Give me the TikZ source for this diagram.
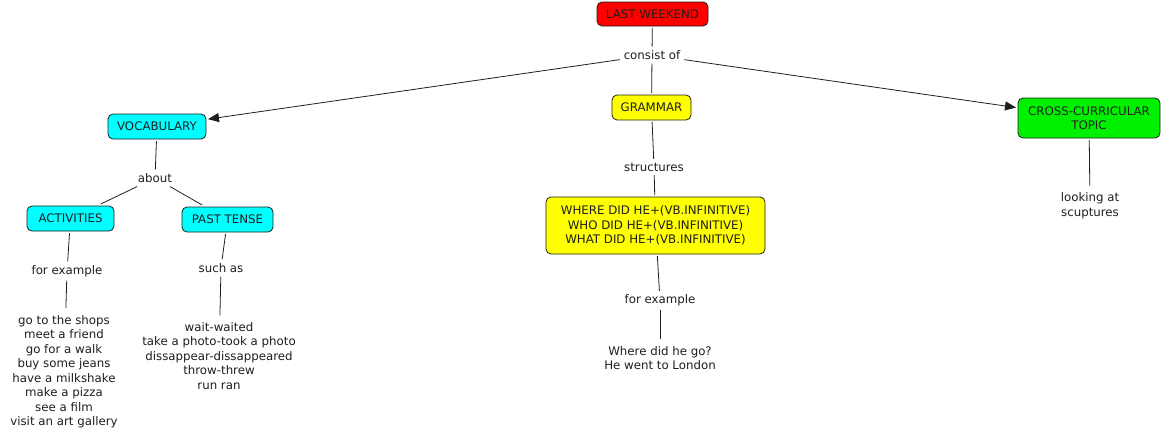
\documentclass[tikz,border=0pt]{standalone}
\usepackage{fontspec}
\setmainfont{DejaVu Sans}
\usetikzlibrary{arrows.meta}
\definecolor{inkc}{HTML}{1E1E1E}
\definecolor{cmred}{HTML}{FF0000}
\definecolor{cmcyan}{HTML}{00FFFF}
\definecolor{cmyellow}{HTML}{FFFF00}
\definecolor{cmgreen}{HTML}{00F000}
\begin{document}
\begin{tikzpicture}[x=1pt,y=-1pt,
  font=\fontsize{11.8}{14.5}\selectfont,
  concept/.style={draw=inkc, line width=0.8pt, rounded corners=5pt, align=center,
    inner xsep=3pt, inner ysep=3pt, minimum height=25pt, text=inkc, outer sep=2pt},
  phrase/.style={align=center, inner sep=3pt, text=inkc, outer sep=1pt},
  plain/.style={draw=inkc, line width=0.8pt},
  arr/.style={plain, -{Triangle[length=11pt,width=9pt]}},
]
\useasboundingbox (0,0) rectangle (1164,439);
% concepts
\node[concept, fill=cmred, minimum width=111pt, minimum height=24pt] (lw) at (652.5,14) {LAST WEEKEND};
\node[concept, fill=cmyellow, minimum width=79pt] (gram) at (651.5,107.5) {GRAMMAR};
\node[concept, fill=cmcyan, minimum width=98pt] (voc) at (157,126.5) {VOCABULARY};
\node[concept, fill=cmgreen, minimum width=142pt, minimum height=40pt] (cross) at (1089,118) {CROSS-CURRICULAR\\TOPIC};
\node[concept, fill=cmcyan, minimum width=87pt] (act) at (70.5,218.5) {ACTIVITIES};
\node[concept, fill=cmcyan, minimum width=91pt] (past) at (227.5,219.5) {PAST TENSE};
\node[concept, fill=cmyellow, minimum width=219pt, minimum height=57pt] (where) at (655.5,225.5)
  {WHERE DID HE+(VB.INFINITIVE)\\WHO DID HE+(VB.INFINITIVE)\\WHAT DID HE+(VB.INFINITIVE)};
% phrases
\node[phrase] (cons) at (652,55) {consist of};
\node[phrase] (about) at (155,178) {about};
\node[phrase] (fex1) at (67,271) {for example};
\node[phrase] (such) at (221,268) {such as};
\node[phrase] (struct) at (654,167) {structures};
\node[phrase] (fex2) at (660,300.5) {for example};
% texts
\node[phrase, inner ysep=6pt] (list1) at (64,371.5) {go to the shops\\meet a friend\\go for a walk\\buy some jeans\\have a milkshake\\make a pizza\\see a film\\visit an art gallery};
\node[phrase, inner ysep=6pt] (list2) at (219,356) {wait-waited\\take a photo-took a photo\\dissappear-dissappeared\\throw-threw\\run ran};
\node[phrase, inner ysep=6pt] (ex) at (660,358) {Where did he go?\\He went to London};
\node[phrase, inner ysep=6pt] (look) at (1090,205.5) {looking at\\scuptures};
% connectors
\draw[plain] (lw) -- (cons);
\draw[arr] (cons) -- (voc);
\draw[plain] (cons) -- (gram);
\draw[arr] (cons) -- (cross);
\draw[plain] (voc) -- (about);
\draw[plain] (about) -- (act);
\draw[plain] (about) -- (past);
\draw[plain] (act) -- (fex1);
\draw[plain] (fex1) -- (list1);
\draw[plain] (past) -- (such);
\draw[plain] (such) -- (list2);
\draw[plain] (gram) -- (struct);
\draw[plain] (struct) -- (where);
\draw[plain] (where) -- (fex2);
\draw[plain] (fex2) -- (ex);
\draw[plain] (cross) -- (look);
\end{tikzpicture}
\end{document}
